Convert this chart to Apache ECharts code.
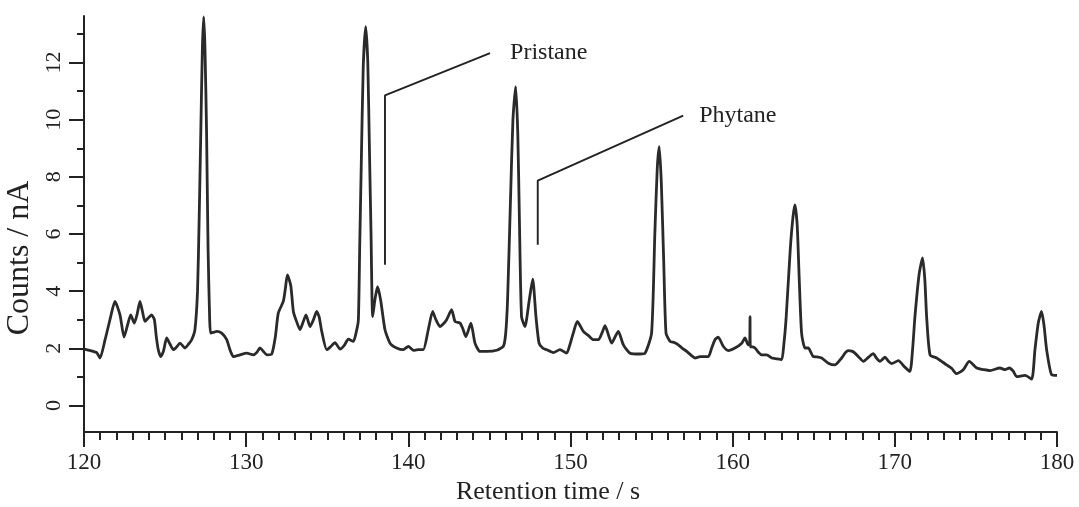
<!DOCTYPE html>
<html>
<head>
<meta charset="utf-8">
<script src="https://cdn.jsdelivr.net/npm/echarts@6/dist/echarts.min.js"></script>
<style>
html,body{margin:0;padding:0;background:#fff;}
#chart{width:1079px;height:507px;}
</style>
</head>
<body>
<div id="chart"></div>
<script>
// Retention time (s)
const times = [
120.0,120.4,120.78,120.99,121.3,121.6,121.91,122.22,122.47,122.68,122.88,123.1,123.28,123.45,123.6,123.76,123.95,124.17,124.34,124.46,124.58,124.73,124.9,125.1,125.3,125.51,125.72,125.92,126.23,126.45,126.64,126.84,127.0,127.1,127.2,127.3,127.38,127.46,127.56,127.65,127.75,127.81,128.0,128.18,128.49,128.8,129.0,129.21,129.62,130.03,130.44,130.65,130.85,131.05,131.27,131.58,131.8,131.98,132.29,132.42,132.54,132.75,132.91,133.1,133.32,133.5,133.69,133.94,134.15,134.35,134.5,134.66,134.97,135.2,135.48,135.79,136.05,136.3,136.61,136.8,136.92,137.0,137.1,137.22,137.37,137.5,137.6,137.7,137.8,137.94,138.1,138.29,138.56,138.87,139.28,139.69,140.0,140.31,140.6,140.92,141.23,141.5,141.7,141.95,142.15,142.36,142.67,142.88,143.19,143.35,143.55,143.86,144.11,144.42,144.83,145.45,145.86,146.0,146.12,146.3,146.45,146.62,146.75,146.85,146.98,147.19,147.46,147.67,147.87,148.06,148.3,148.53,148.94,149.35,149.76,149.95,150.17,150.42,150.79,151.1,151.41,151.72,151.95,152.13,152.35,152.54,152.75,152.95,153.26,153.67,154.29,154.6,155.0,155.2,155.35,155.47,155.6,155.75,155.89,156.14,156.4,156.65,156.9,157.17,157.45,157.68,157.99,158.5,158.7,158.91,159.11,159.42,159.73,160.14,160.56,160.76,160.96,161.05,161.07,161.09,161.2,161.38,161.6,161.79,162.1,162.41,162.7,163.02,163.15,163.29,163.55,163.72,163.84,163.98,164.1,164.25,164.46,164.66,164.97,165.2,165.49,165.9,166.31,166.72,166.95,167.13,167.35,167.54,167.8,168.06,168.4,168.67,168.88,169.08,169.25,169.39,169.6,169.8,170.22,170.6,170.93,171.1,171.24,171.5,171.71,171.85,171.96,172.17,172.58,173.19,173.5,173.81,174.22,174.59,175.05,175.5,175.87,176.48,176.8,177.06,177.3,177.51,178.03,178.44,178.64,178.85,179.05,179.2,179.36,179.67,180.0
];
// Detector signal (nA)
const counts = [
1.97,1.92,1.85,1.66,2.3,3.0,3.64,3.17,2.39,2.8,3.17,2.88,3.2,3.64,3.3,2.94,3.05,3.17,3.0,2.4,1.95,1.71,1.9,2.36,2.15,1.95,2.05,2.18,2.01,2.15,2.3,2.65,4.0,6.5,9.5,12.5,13.6,12.5,9.5,5.5,3.0,2.53,2.56,2.59,2.53,2.3,1.95,1.71,1.77,1.83,1.77,1.85,2.01,1.9,1.77,1.8,2.4,3.23,3.64,4.1,4.57,4.2,3.29,2.95,2.65,2.9,3.17,2.76,3.0,3.29,3.1,2.59,1.95,2.05,2.2,1.97,2.1,2.32,2.24,2.6,3.0,5.5,8.5,11.86,13.26,12.0,9.0,6.0,3.11,3.7,4.16,3.7,2.65,2.18,2.01,1.95,2.07,1.93,1.95,1.95,2.65,3.29,3.0,2.76,2.85,3.0,3.35,2.94,2.88,2.7,2.41,2.88,2.18,1.89,1.89,1.93,2.07,2.5,3.7,7.2,10.0,11.16,9.5,6.5,3.11,2.76,3.7,4.42,3.11,2.18,2.0,1.95,1.85,1.95,1.83,2.1,2.53,2.94,2.59,2.45,2.3,2.3,2.55,2.79,2.45,2.18,2.4,2.59,2.12,1.83,1.8,1.83,2.53,6.0,8.3,9.06,7.8,5.0,2.53,2.24,2.2,2.12,2.0,1.89,1.75,1.66,1.71,1.71,2.0,2.3,2.39,2.07,1.92,2.01,2.18,2.36,2.12,2.2,3.11,2.05,2.05,2.01,1.85,1.77,1.77,1.66,1.63,1.6,2.1,3.0,5.45,6.6,7.02,6.3,4.5,2.53,2.01,2.01,1.71,1.7,1.66,1.48,1.42,1.66,1.85,1.92,1.9,1.83,1.68,1.54,1.7,1.81,1.65,1.54,1.62,1.69,1.55,1.46,1.57,1.35,1.19,2.0,3.11,4.6,5.16,4.4,3.11,1.77,1.66,1.42,1.3,1.11,1.25,1.54,1.31,1.25,1.22,1.31,1.25,1.31,1.2,1.01,1.05,0.92,1.95,2.9,3.29,2.8,1.95,1.07,1.05
];
// Annotation leader lines
const pristaneLine = [[138.56, 4.92], [138.56, 10.85], [145.04, 12.33]];
const phytaneLine = [[147.98, 5.62], [147.98, 7.87], [156.95, 10.14]];
// Tick values
const yMajorTicks = [0, 2, 4, 6, 8, 10, 12];
const yMinorTicks = [1, 3, 5, 7, 9, 11, 13];

const FONT = '"Liberation Serif", "DejaVu Serif", serif';
const INK = '#222';
const data = times.map((t, i) => [t, counts[i]]);

const chart = echarts.init(document.getElementById('chart'), null, {renderer: 'canvas'});
chart.setOption({
  animation: false,
  backgroundColor: '#fff',
  grid: {left: 84, right: 22, top: 16, bottom: 75, containLabel: false, outerBoundsMode: 'none'},
  xAxis: {
    type: 'value', min: 120, max: 180, interval: 10,
    axisLine: {onZero: false, lineStyle: {color: INK, width: 2}},
    axisTick: {length: 15, lineStyle: {color: INK, width: 2}},
    minorTick: {show: true, splitNumber: 10, length: 8, lineStyle: {color: INK, width: 2}},
    splitLine: {show: false}, minorSplitLine: {show: false},
    axisLabel: {fontFamily: FONT, fontSize: 23, color: INK, margin: 19},
    name: 'Retention time / s', nameLocation: 'middle', nameGap: 40,
    nameTextStyle: {fontFamily: FONT, fontSize: 26, color: INK, padding: [0, 45, 0, 0]}
  },
  yAxis: [{
    type: 'value', min: -0.93, max: 13.63, position: 'left',
    axisLine: {show: true, onZero: false, lineStyle: {color: INK, width: 2}},
    axisTick: {show: true, length: 15, customValues: yMajorTicks, lineStyle: {color: INK, width: 2}},
    axisLabel: {show: true, customValues: yMajorTicks, rotate: 90, fontFamily: FONT, fontSize: 22, color: INK, margin: 19},
    splitLine: {show: false},
    name: 'Counts / nA', nameLocation: 'middle', nameGap: 48,
    nameTextStyle: {fontFamily: FONT, fontSize: 32, color: INK, padding: [0, 68, 0, 0]}
  }, {
    type: 'value', min: -0.93, max: 13.63, position: 'left',
    axisLine: {show: false, onZero: false},
    axisTick: {show: true, length: 7, customValues: yMinorTicks, lineStyle: {color: INK, width: 2}},
    axisLabel: {show: false},
    splitLine: {show: false}
  }],
  series: [{
    type: 'line', data: data, showSymbol: false, symbol: 'none', smooth: 0.2,
    lineStyle: {color: '#2a2a2a', width: 2.8}, silent: true, z: 3
  }, {
    type: 'line', data: pristaneLine, showSymbol: false, symbol: 'none',
    lineStyle: {color: INK, width: 1.9}, silent: true,
    endLabel: {show: true, formatter: 'Pristane', fontFamily: FONT, fontSize: 24, color: INK, distance: 20}
  }, {
    type: 'line', data: phytaneLine, showSymbol: false, symbol: 'none',
    lineStyle: {color: INK, width: 1.9}, silent: true,
    endLabel: {show: true, formatter: 'Phytane', fontFamily: FONT, fontSize: 24, color: INK, distance: 16}
  }]
});
</script>
</body>
</html>
